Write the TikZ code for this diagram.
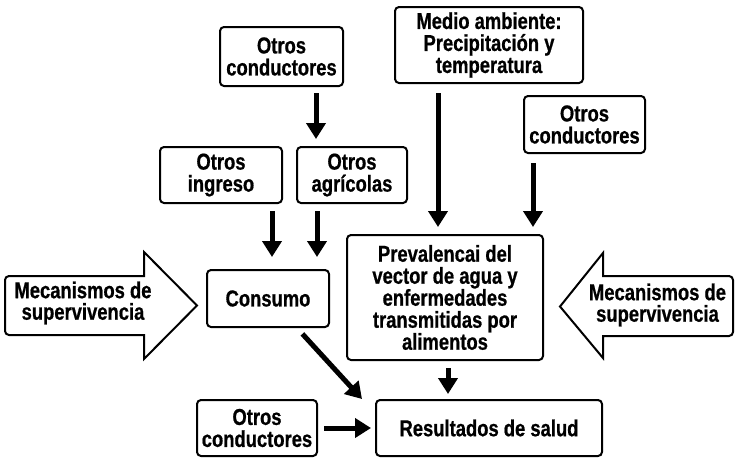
\documentclass[tikz,border=0pt]{standalone}
\usepackage{fontspec}
\setmainfont{Liberation Sans}[FakeStretch=0.8,BoldFeatures={FakeBold=0.7}]
\usetikzlibrary{arrows.meta,calc}
\begin{document}
\begin{tikzpicture}[x=1pt,y=-1pt,
  box/.style={draw=black,line width=2pt,rounded corners=4pt,fill=white,
    align=center,inner sep=0pt,font=\fontsize{23}{22}\selectfont\bfseries},
  lbl/.style={align=center,inner sep=0pt,font=\fontsize{23}{21.5}\selectfont\bfseries},
  arr/.style={line width=5pt,-{Triangle[length=16pt,width=19pt]}},
  bigarrow/.style={draw=black,line width=2pt,fill=white,line join=miter}]
\useasboundingbox (0,0) rectangle (735,458);
% boxes
\node[box,minimum width=123pt,minimum height=59pt] (oc1) at (281.5,56.5) {Otros\\conductores};
\node[box,minimum width=188pt,minimum height=76pt] (medio) at (489,45) {Medio ambiente:\\Precipitación y\\temperatura};
\node[box,minimum width=121pt,minimum height=57pt] (oc2) at (584.5,124.5) {Otros\\conductores};
\node[box,minimum width=122pt,minimum height=56pt] (ingreso) at (221,175) {Otros\\ingreso};
\node[box,minimum width=110pt,minimum height=56pt] (agric) at (352,175) {Otros\\agrícolas};
\node[box,minimum width=122pt,minimum height=57pt] (consumo) at (268,298.5) {Consumo};
\node[box,minimum width=196pt,minimum height=125pt] (prev) at (445,297.5) {Prevalencai del\\vector de agua y\\enfermedades\\transmitidas por\\alimentos};
\node[box,minimum width=226pt,minimum height=56pt] (result) at (489,428) {Resultados de salud};
\node[box,minimum width=120pt,minimum height=56pt] (oc3) at (257,428) {Otros\\conductores};
% big arrows
\draw[bigarrow] (144,276) -- (144,252) -- (197,305.5) -- (144,359) -- (144,335)
  [rounded corners=4pt] -- (5,335) -- (5,276) [sharp corners] -- cycle;
\node[lbl] (mecL) at (83,303) {Mecanismos de\\supervivencia};
\draw[bigarrow] (603,276) -- (603,253) -- (560,306.5) -- (603,358) -- (603,336)
  [rounded corners=4pt] -- (733,336) -- (733,276) [sharp corners] -- cycle;
\node[lbl] (mecR) at (657.5,305) {Mecanismos de\\supervivencia};
% connectors
\draw[arr,shorten <=6pt,shorten >=7pt] ([xshift=34.5pt]oc1.south) -- ([xshift=-36pt]agric.north);
\draw[arr,shorten <=9pt,shorten >=7pt] ([xshift=-51pt]medio.south) -- ([xshift=-7pt]prev.north);
\draw[arr,shorten <=9pt,shorten >=7pt] ([xshift=-51.5pt]oc2.south) -- ([xshift=88pt]prev.north);
\draw[arr,shorten <=7pt,shorten >=12pt] ([xshift=51pt]ingreso.south) -- ([xshift=4pt]consumo.north);
\draw[arr,shorten <=7pt,shorten >=12pt] ([xshift=-35pt]agric.south) -- ([xshift=49pt]consumo.north);
\draw[arr,shorten <=7pt,shorten >=5pt] ([xshift=3pt]prev.south) -- ([xshift=-41pt]result.north);
\draw[arr,shorten <=8pt] ([xshift=29pt]consumo.south) -- ([xshift=-13pt]result.north west);
\draw[arr,shorten <=6pt,shorten >=4pt] (oc3.east) -- (result.west);
\end{tikzpicture}
\end{document}
